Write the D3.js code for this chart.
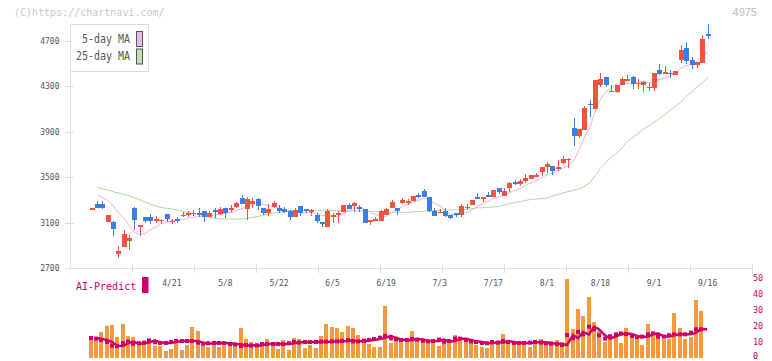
<!DOCTYPE html>
<html>
<head>
<meta charset="utf-8">
<script src="https://cdn.jsdelivr.net/npm/d3@7"></script>
<style>
  body { margin: 0; background: #fff; }
  svg { display: block; }
  text { font-family: "DejaVu Sans Mono", monospace; }
</style>
</head>
<body>
<div id="chart"></div>
<script>
// daily candles, 2025/3/31 - 9/16 (4975)
var openPrices = [3222, 3263, 3263, 3108, 3108, 2826, 2888, 2941, 3231, 3070,
  3149, 3149, 3119, 3119, 3175, 3105, 3128, 3164, 3164, 3175,
  3181, 3202, 3149, 3208, 3175, 3228, 3208, 3237, 3313, 3219,
  3260, 3307, 3228, 3181, 3240, 3228, 3219, 3199, 3146, 3246,
  3216, 3190, 3166, 3105, 3064, 3146, 3164, 3190, 3254, 3249,
  3234, 3219, 3117, 3111, 3117, 3169, 3228, 3228, 3275, 3275,
  3290, 3342, 3378, 3322, 3202, 3190, 3202, 3166, 3184, 3166,
  3228, 3254, 3325, 3310, 3342, 3328, 3404, 3337, 3407, 3457,
  3439, 3469, 3480, 3512, 3545, 3586, 3598, 3574, 3624, 3656,
  3935, 3865, 3914, 4146, 4099, 4313, 4381, 4252, 4249, 4313,
  4354, 4381, 4322, 4313, 4287, 4287, 4442, 4413, 4416, 4398,
  4530, 4636, 4530, 4486, 4504, 4759];
var highPrices = [3226, 3293, 3293, 3166, 3114, 2894, 3034, 2990, 3237, 3076,
  3149, 3172, 3158, 3134, 3175, 3134, 3149, 3190, 3202, 3213,
  3228, 3202, 3202, 3225, 3237, 3228, 3252, 3281, 3342, 3322,
  3313, 3316, 3228, 3260, 3293, 3252, 3237, 3210, 3228, 3246,
  3216, 3219, 3187, 3105, 3219, 3187, 3205, 3254, 3269, 3281,
  3252, 3219, 3120, 3149, 3210, 3228, 3298, 3228, 3316, 3310,
  3334, 3363, 3395, 3322, 3225, 3219, 3225, 3166, 3184, 3263,
  3263, 3298, 3360, 3325, 3369, 3386, 3404, 3404, 3457, 3474,
  3483, 3527, 3518, 3539, 3589, 3633, 3598, 3650, 3686, 3668,
  4020, 3923, 4126, 4178, 4354, 4416, 4381, 4310, 4310, 4381,
  4398, 4390, 4363, 4346, 4328, 4416, 4495, 4478, 4442, 4434,
  4662, 4689, 4557, 4513, 4750, 4847];
var lowPrices = [3222, 3231, 3219, 3108, 2985, 2791, 2888, 2858, 3037, 2982,
  3099, 3087, 3093, 3090, 3108, 3084, 3099, 3152, 3146, 3161,
  3149, 3108, 3146, 3140, 3166, 3143, 3196, 3231, 3263, 3125,
  3231, 3210, 3164, 3161, 3228, 3187, 3181, 3122, 3146, 3161,
  3181, 3161, 3099, 3064, 3064, 3099, 3099, 3190, 3222, 3190,
  3193, 3099, 3081, 3111, 3117, 3169, 3228, 3164, 3263, 3257,
  3290, 3319, 3322, 3196, 3161, 3181, 3152, 3131, 3146, 3152,
  3210, 3254, 3307, 3281, 3328, 3328, 3351, 3337, 3369, 3430,
  3419, 3451, 3480, 3504, 3510, 3536, 3521, 3557, 3612, 3583,
  3777, 3847, 3914, 4032, 4099, 4296, 4296, 4252, 4240, 4313,
  4346, 4278, 4278, 4252, 4261, 4261, 4398, 4407, 4372, 4398,
  4504, 4495, 4451, 4460, 4504, 4715];
var closePrices = [3226, 3231, 3231, 3166, 3046, 2853, 2999, 2967, 3125, 3076,
  3117, 3117, 3128, 3125, 3128, 3114, 3114, 3169, 3181, 3184,
  3175, 3146, 3184, 3196, 3219, 3181, 3225, 3272, 3263, 3307,
  3290, 3249, 3181, 3219, 3275, 3202, 3190, 3146, 3210, 3181,
  3205, 3210, 3117, 3084, 3199, 3169, 3187, 3254, 3222, 3272,
  3228, 3099, 3120, 3134, 3202, 3216, 3281, 3205, 3298, 3293,
  3334, 3334, 3322, 3205, 3161, 3196, 3161, 3143, 3164, 3246,
  3237, 3298, 3310, 3325, 3328, 3386, 3366, 3378, 3445, 3439,
  3466, 3492, 3518, 3518, 3589, 3615, 3557, 3586, 3659, 3662,
  3865, 3923, 4108, 4134, 4354, 4363, 4313, 4261, 4310, 4363,
  4363, 4322, 4331, 4337, 4296, 4416, 4407, 4422, 4407, 4434,
  4618, 4522, 4486, 4513, 4715, 4742];

// moving averages (first day has none)
var ma5 = [null, 3348, 3322, 3293, 3249, 3190, 3137, 3078, 3014, 2996,
  3002, 3034, 3061, 3090, 3108, 3114, 3122, 3125, 3137, 3146,
  3152, 3152, 3161, 3166, 3172, 3181, 3190, 3205, 3222, 3237,
  3254, 3276, 3258, 3249, 3243, 3225, 3213, 3206, 3205, 3186,
  3186, 3190, 3185, 3159, 3163, 3156, 3151, 3179, 3206, 3221,
  3233, 3215, 3188, 3171, 3157, 3154, 3191, 3208, 3240, 3259,
  3282, 3293, 3316, 3298, 3271, 3244, 3209, 3173, 3165, 3182,
  3190, 3210, 3240, 3268, 3285, 3310, 3325, 3340, 3362, 3383,
  3400, 3424, 3450, 3466, 3494, 3522, 3538, 3552, 3580, 3598,
  3650, 3739, 3843, 3938, 4077, 4176, 4254, 4285, 4320, 4322,
  4322, 4324, 4338, 4343, 4330, 4340, 4357, 4376, 4390, 4417,
  4458, 4481, 4493, 4515, 4571, 4596];
var ma25 = [null, 3410, 3398, 3386, 3372, 3360, 3348, 3335, 3318, 3300,
  3278, 3262, 3245, 3232, 3225, 3220, 3210, 3198, 3188, 3178,
  3170, 3160, 3148, 3136, 3131, 3131, 3131, 3131, 3131, 3135,
  3145, 3152, 3164, 3175, 3184, 3190, 3196, 3199, 3202, 3202,
  3205, 3208, 3208, 3208, 3208, 3205, 3205, 3205, 3202, 3202,
  3202, 3202, 3199, 3196, 3193, 3190, 3190, 3190, 3190, 3190,
  3193, 3196, 3199, 3202, 3205, 3208, 3210, 3212, 3212, 3215,
  3219, 3222, 3228, 3231, 3234, 3237, 3243, 3254, 3266, 3275,
  3284, 3293, 3304, 3307, 3310, 3316, 3331, 3348, 3360, 3372,
  3386, 3395, 3416, 3450, 3510, 3575, 3630, 3675, 3712, 3756,
  3815, 3850, 3882, 3920, 3950, 3985, 4014, 4050, 4088, 4120,
  4161, 4208, 4252, 4293, 4328, 4378];

// lower panel: bars and AI-Predict line (0-50 scale)
var volume = [null, 13.0, 13.0, 16.2, 20.0, 20.6, 13.0, 21.2, 13.7, 13.0,
  8.8, 8.8, 10.3, 7.4, 7.4, 4.0, 5.5, 9.3, 4.9, 8.0,
  19.3, 16.8, 7.4, 6.7, 8.8, 6.7, 7.4, 7.4, 7.4, 18.7,
  11.8, 9.9, 7.4, 8.4, 11.8, 9.9, 5.5, 11.2, 4.9, 12.4,
  11.8, 6.1, 8.0, 6.1, 13.7, 21.2, 19.3, 18.7, 16.2, 20.0,
  18.7, 14.3, 10.5, 8.6, 6.7, 6.7, 32.6, 9.3, 13.7, 9.3,
  10.5, 16.8, 12.4, 11.8, 11.2, 10.5, 7.4, 9.3, 9.3, 14.3,
  13.0, 10.5, 10.5, 8.0, 6.7, 6.1, 8.6, 9.3, 14.9, 11.2,
  8.6, 8.6, 8.6, 6.7, 11.2, 11.8, 8.0, 10.5, 11.2, 9.9,
  49.4, 18.1, 30.7, 26.3, 38.2, 22.5, 16.8, 9.9, 11.8, 13.7,
  9.3, 18.7, 13.7, 11.8, 8.0, 21.2, 13.7, 14.9, 11.8, 11.8,
  28.2, 18.7, 11.8, 13.0, 36.3, 29.4];
var aiPredict = [null, 12.4, 12.0, 11.2, 9.9, 7.6, 7.4, 9.1, 10.1, 8.8,
  9.1, 9.5, 10.9, 9.7, 9.3, 9.3, 9.9, 10.5, 10.5, 10.5,
  10.5, 9.5, 8.8, 9.1, 9.3, 9.3, 9.1, 8.6, 8.4, 7.4,
  8.0, 7.6, 7.8, 8.6, 8.6, 8.6, 8.6, 8.6, 9.1, 9.9,
  9.5, 9.9, 9.9, 9.9, 10.1, 10.1, 10.3, 10.3, 10.5, 11.1,
  10.3, 10.3, 10.7, 11.2, 11.8, 12.6, 13.7, 12.2, 11.6, 10.9,
  11.2, 11.8, 11.4, 10.7, 10.3, 10.5, 11.4, 10.1, 10.5, 12.0,
  12.0, 11.2, 10.3, 9.9, 9.3, 9.1, 9.9, 9.5, 10.5, 9.9,
  9.3, 9.3, 9.3, 9.5, 9.9, 9.5, 9.1, 8.8, 8.6, 8.0,
  14.3, 12.4, 16.2, 14.7, 19.5, 17.9, 14.1, 12.0, 13.5, 14.7,
  15.3, 14.9, 13.7, 13.0, 13.3, 14.7, 15.3, 13.3, 13.3, 14.1,
  14.7, 14.7, 14.7, 15.8, 17.9, 17.9];

var holidays = ["2025-04-29", "2025-05-05", "2025-05-06", "2025-07-21", "2025-08-11", "2025-09-15"];
var dateLabels = ["4/21", "5/8", "5/22", "6/5", "6/19", "7/3", "7/17", "8/1", "8/18", "9/1", "9/16"];
var priceTicks = [2700, 3100, 3500, 3900, 4300, 4700];
var aiTicks = [0, 10, 20, 30, 40, 50];

var red = "#f2533f", blue = "#3d7de6";
var width = 772, height = 361;

// trading days
var keyFmt = d3.timeFormat("%Y-%m-%d"), dayFmt = d3.timeFormat("%-m/%-d");
var days = [];
var cur = new Date(2025, 2, 31);
while (days.length < closePrices.length) {
  if (cur.getDay() !== 0 && cur.getDay() !== 6 && holidays.indexOf(keyFmt(cur)) < 0) {
    days.push(dayFmt(cur));
  }
  cur.setDate(cur.getDate() + 1);
}

var svg = d3.select("#chart")
  .append("svg")
  .attr("width", width)
  .attr("height", height);

// scales
var x = d3.scalePoint()
  .domain(days)
  .range([91.5, 707.6]);

var y = d3.scaleLinear()
  .domain([2700, d3.max(highPrices)])
  .range([268, 24]);

var yAi = d3.scaleLinear()
  .domain([0, 50])
  .range([357.7, 278.3]);

// even grid ticks along the bottom axis
var xGrid = d3.scaleLinear().domain([0, 11]).range([70.5, 752.5]);

function cx(i) { return Math.round(x(days[i])); }

// header texts
svg.append("text")
  .attr("x", 14)
  .attr("y", 15.5)
  .style("font-size", "10px")
  .style("fill", "#c8c8c8")
  .text("(C)https://chartnavi.com/");

svg.append("text")
  .attr("x", 757)
  .attr("y", 16)
  .attr("text-anchor", "end")
  .style("font-family", "'Liberation Sans', Arial, sans-serif")
  .style("font-size", "11px")
  .style("fill", "#bdbdbd")
  .text("4975");

// axes
var axisColor = "#dedede";
svg.append("line")
  .attr("x1", 70.5).attr("x2", 70.5)
  .attr("y1", 24).attr("y2", 268.5)
  .attr("stroke", axisColor);
svg.append("line")
  .attr("x1", 70.5).attr("x2", 752.5)
  .attr("y1", 268.5).attr("y2", 268.5)
  .attr("stroke", axisColor);

svg.selectAll(".ytick")
  .data(priceTicks)
  .enter()
  .append("line")
  .attr("class", "ytick")
  .attr("x1", 65).attr("x2", 74)
  .attr("y1", function(d) { return Math.round(y(d)) + 0.5; })
  .attr("y2", function(d) { return Math.round(y(d)) + 0.5; })
  .attr("stroke", axisColor);

svg.selectAll(".ylabel")
  .data(priceTicks)
  .enter()
  .append("text")
  .attr("class", "ylabel")
  .attr("x", 59.5)
  .attr("y", function(d) { return y(d) + 3; })
  .attr("text-anchor", "end")
  .style("font-size", "8px")
  .style("fill", "#555")
  .text(function(d) { return d; });

svg.selectAll(".xtick")
  .data(d3.range(1, 12))
  .enter()
  .append("line")
  .attr("class", "xtick")
  .attr("x1", function(d) { return xGrid(d); })
  .attr("x2", function(d) { return xGrid(d); })
  .attr("y1", 264).attr("y2", 273)
  .attr("stroke", axisColor);

svg.selectAll(".xlabel")
  .data(dateLabels)
  .enter()
  .append("text")
  .attr("class", "xlabel")
  .attr("x", function(d) { return x(d); })
  .attr("y", 285.5)
  .attr("text-anchor", "middle")
  .style("font-size", "8px")
  .style("fill", "#555")
  .text(function(d) { return d; });

// moving averages
function maLine(values) {
  return d3.line()
    .defined(function(d) { return d != null; })
    .x(function(d, i) { return cx(i); })
    .y(function(d) { return y(d); })(values);
}

svg.append("path")
  .attr("d", maLine(ma25))
  .attr("fill", "none")
  .attr("stroke", "#b3d9a3")
  .attr("stroke-width", 1);

svg.append("path")
  .attr("d", maLine(ma5))
  .attr("fill", "none")
  .attr("stroke", "#e9b2ea")
  .attr("stroke-width", 1);

// candles
var candles = svg.append("g")
  .attr("shape-rendering", "crispEdges")
  .selectAll("g")
  .data(closePrices)
  .enter()
  .append("g");

candles.append("line")
  .attr("x1", function(d, i) { return cx(i) + 0.5; })
  .attr("x2", function(d, i) { return cx(i) + 0.5; })
  .attr("y1", function(d, i) { return y(highPrices[i]); })
  .attr("y2", function(d, i) { return y(lowPrices[i]); })
  .attr("stroke", function(d, i) { return d >= openPrices[i] ? red : blue; })
  .attr("stroke-width", 1);

candles.append("rect")
  .attr("x", function(d, i) { return cx(i) - 2; })
  .attr("width", 5)
  .attr("y", function(d, i) { return y(Math.max(d, openPrices[i])); })
  .attr("height", function(d, i) { return Math.max(1.5, Math.abs(y(d) - y(openPrices[i]))); })
  .attr("fill", function(d, i) { return d >= openPrices[i] ? red : blue; });

// legend
var legend = svg.append("g").attr("class", "legend");
legend.append("rect")
  .attr("x", 70.5).attr("y", 24.5)
  .attr("width", 78).attr("height", 47)
  .attr("fill", "#fff")
  .attr("stroke", "#dcdcdc");

var legendData = [
  { label: "5-day MA", color: "#ebb8ec", y: 38 },
  { label: "25-day MA", color: "#bfe0b2", y: 55.5 }
];

legend.selectAll(".legend-label")
  .data(legendData)
  .enter()
  .append("text")
  .attr("class", "legend-label")
  .attr("x", 130)
  .attr("y", function(d) { return d.y + 4.5; })
  .attr("text-anchor", "end")
  .attr("textLength", function(d) { return d.label.length * 6; })
  .attr("lengthAdjust", "spacingAndGlyphs")
  .style("font-size", "12px")
  .style("fill", "#555")
  .text(function(d) { return d.label; });

legend.selectAll(".legend-swatch")
  .data(legendData)
  .enter()
  .append("rect")
  .attr("class", "legend-swatch")
  .attr("x", 136.5)
  .attr("y", function(d) { return d.y - 6.5; })
  .attr("width", 6).attr("height", 15)
  .attr("fill", function(d) { return d.color; })
  .attr("stroke", "#555");

// lower panel
svg.append("text")
  .attr("x", 76)
  .attr("y", 289.5)
  .style("font-size", "10px")
  .style("fill", "#cc0066")
  .text("AI-Predict");

svg.append("rect")
  .attr("x", 142).attr("y", 277)
  .attr("width", 6.5).attr("height", 16)
  .attr("fill", "#cc0066");

svg.selectAll(".ailabel")
  .data(aiTicks)
  .enter()
  .append("text")
  .attr("class", "ailabel")
  .attr("x", 753)
  .attr("y", function(d) { return Math.min(yAi(d) + 3, 358.5); })
  .style("font-size", "8.5px")
  .style("fill", "#cc0066")
  .text(function(d) { return d; });

svg.append("g")
  .attr("shape-rendering", "crispEdges")
  .selectAll("rect")
  .data(volume)
  .enter()
  .filter(function(d) { return d != null; })
  .append("rect")
  .attr("x", function(d, i) { return cx(i) - 3; })
  .attr("width", 4)
  .attr("y", function(d) { return yAi(d); })
  .attr("height", function(d) { return yAi(0) - yAi(d); })
  .attr("fill", "#f39a40");

var aiLine = d3.line()
  .defined(function(d) { return d != null; })
  .x(function(d, i) { return cx(i) - 1; })
  .y(function(d) { return yAi(d); });

svg.append("path")
  .attr("d", aiLine(aiPredict))
  .attr("fill", "none")
  .attr("stroke", "#cc0066")
  .attr("stroke-width", 2.5);

svg.selectAll(".ai-dot")
  .data(aiPredict)
  .enter()
  .filter(function(d) { return d != null; })
  .append("rect")
  .attr("class", "ai-dot")
  .attr("x", function(d, i) { return cx(i) - 3; })
  .attr("y", function(d) { return yAi(d) - 2; })
  .attr("width", 4).attr("height", 4)
  .attr("fill", "#cc0066");
</script>
</body>
</html>
